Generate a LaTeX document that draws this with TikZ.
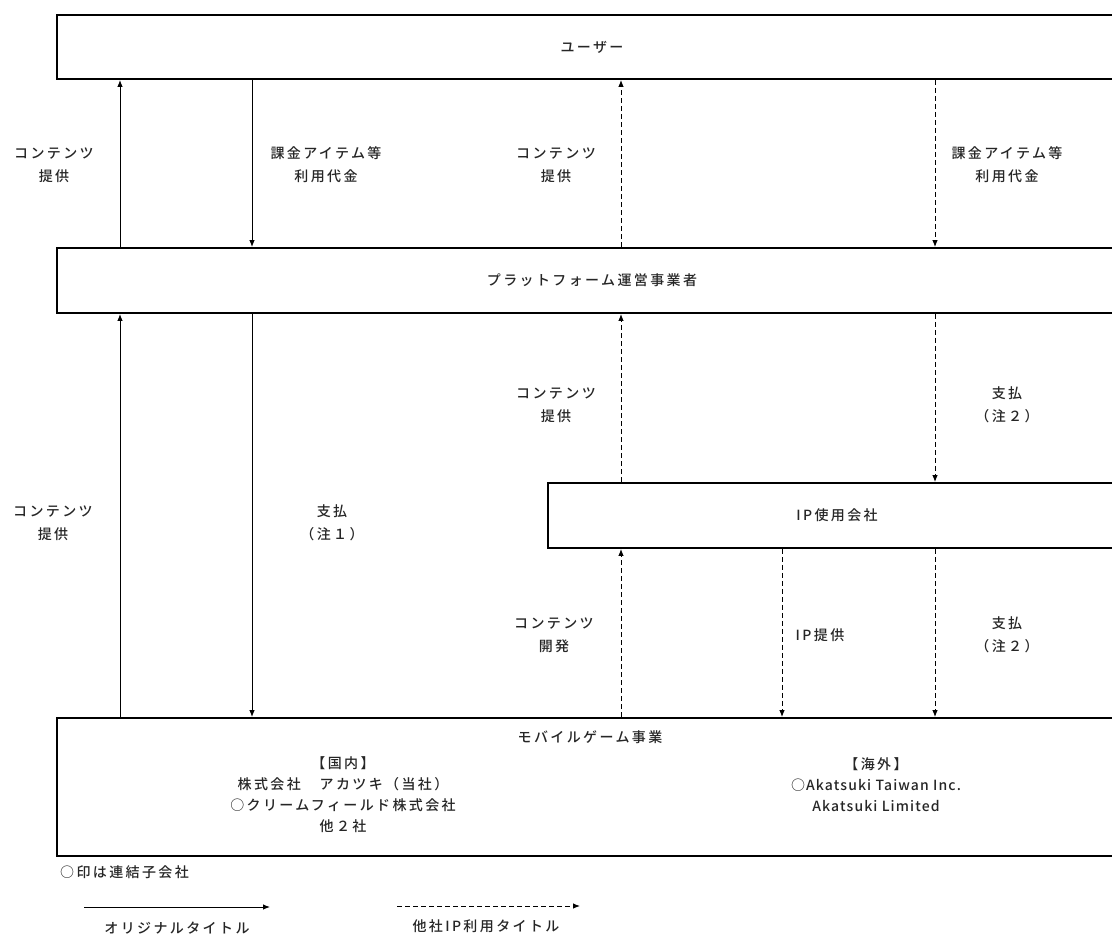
\documentclass[tikz,border=0pt]{standalone}
\usepackage{fontspec}
\usetikzlibrary{arrows.meta}
\newfontfamily\jp[LetterSpace=17, UprightFont={* Medium}]{Noto Sans CJK JP}
\newfontfamily\jplat[LetterSpace=8, UprightFont={* Medium}]{Noto Sans CJK JP}
\begin{document}
\begin{tikzpicture}[x=1pt,y=-1pt,
  txt/.style={font=\jp\fontsize{14}{23}\selectfont, align=center, inner sep=0pt, text=black!85},
  box/.style={txt, draw=black, line width=1.8pt, inner sep=0pt},
  sol/.style={line width=1pt, -{Latex[length=7pt,width=5.5pt]}},
  dsh/.style={sol, dash pattern=on 5pt off 3pt}]
\useasboundingbox (0,0) rectangle (1112,935);
\clip (0,0) rectangle (1112,935);
% boxes
\node[box, minimum width=1070pt, minimum height=64pt] (user) at (592,47) {ユーザー};
\node[box, minimum width=1070pt, minimum height=65pt] (plat) at (592,280.5) {プラットフォーム運営事業者};
\node[box, minimum width=578pt, minimum height=65pt] (ip) at (837,515.5) {IP使用会社};
\node[box, minimum width=1070pt, minimum height=138pt] (mob) at (592,787) {};
% text in mobile box
\node[txt] (mobT) at (590,737) {モバイルゲーム事業};
\node[txt, font=\jp\fontsize{14}{21}\selectfont] (dom) at (343,795) {【国内】\\株式会社　アカツキ（当社）\\○クリームフィールド株式会社\\他２社};
\node[txt, font=\jp\fontsize{14}{21}\selectfont] (ovs) at (876,785) {【海外】\\{\jplat ○Akatsuki Taiwan Inc.}\\{\jplat Akatsuki Limited}};
% columns
\coordinate (cA) at (120,0);
\coordinate (cB) at (252,0);
\coordinate (cC) at (621,0);
\coordinate (cE) at (782,0);
\coordinate (cD) at (935,0);
% solid arrows
\draw[sol] (plat.north -| cA) -- (user.south -| cA);
\draw[sol] (mob.north -| cA) -- (plat.south -| cA);
\draw[sol] (user.south -| cB) -- (plat.north -| cB);
\draw[sol] (plat.south -| cB) -- (mob.north -| cB);
% dashed arrows
\draw[dsh] (plat.north -| cC) -- (user.south -| cC);
\draw[dsh] (ip.north -| cC) -- (plat.south -| cC);
\draw[dsh] (mob.north -| cC) -- (ip.south -| cC);
\draw[dsh] (user.south -| cD) -- (plat.north -| cD);
\draw[dsh] (plat.south -| cD) -- (ip.north -| cD);
\draw[dsh] (ip.south -| cD) -- (mob.north -| cD);
\draw[dsh] (ip.south -| cE) -- (mob.north -| cE);
% labels
\node[txt] (l1) at (54,165) {コンテンツ\\提供};
\node[txt] (l2) at (326,165) {課金アイテム等\\利用代金};
\node[txt] (l3) at (556,165) {コンテンツ\\提供};
\node[txt] (l4) at (1007,165) {課金アイテム等\\利用代金};
\node[txt] (l5) at (556,405) {コンテンツ\\提供};
\node[txt] (l6) at (1007,405) {支払\\（注２）};
\node[txt] (l7) at (53,523) {コンテンツ\\提供};
\node[txt] (l8) at (332,523) {支払\\（注１）};
\node[txt] (l9) at (554,635) {コンテンツ\\開発};
\node[txt] (l10) at (820,635) {IP提供};
\node[txt] (l11) at (1007,635) {支払\\（注２）};
% footnote and legend
\node[txt, anchor=west] (note) at (60,872) {○印は連結子会社};
\coordinate (lgA1) at (84,907);
\coordinate (lgA2) at (270,907);
\coordinate (lgB1) at (397,906);
\coordinate (lgB2) at (580,906);
\draw[sol] (lgA1) -- (lgA2);
\draw[dsh] (lgB1) -- (lgB2);
\node[txt] (lgAT) at (177,928) {オリジナルタイトル};
\node[txt] (lgBT) at (486,926) {他社IP利用タイトル};
\end{tikzpicture}
\end{document}
